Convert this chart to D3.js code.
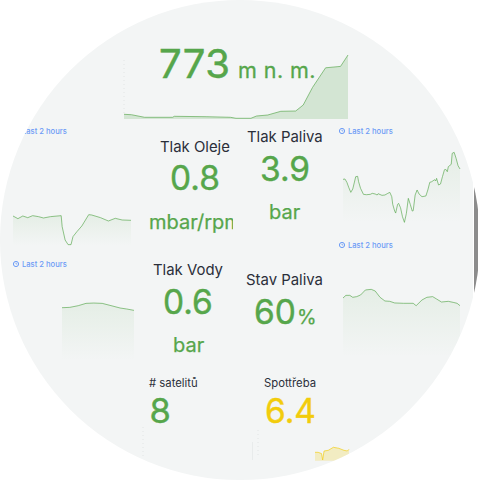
<!DOCTYPE html>
<html>
<head>
<meta charset="utf-8">
<script src="https://cdn.jsdelivr.net/npm/d3@7/dist/d3.min.js"></script>
<style>
html,body{margin:0;padding:0;background:#fff;width:480px;height:480px;overflow:hidden}
svg{display:block;font-family:Inter,"Noto Sans",sans-serif}
</style>
</head>
<body>
<svg id="c" width="480" height="480"></svg>
<script>
const GREEN="#56a64b", YELLOW="#f2cc0c", INK="#2b2f3a", BLUE="#6c9bf5";

const altTime=[0,4,11,26,27,44,57,60,68,71,77,84,92,96,101,108,116,120];
const altValues=[612.7,611.6,604.6,604.6,607.3,606.2,604.6,601.9,601.9,608.1,610.8,620.8,621.6,637.8,685.4,738.4,742.2,773];
const oilTime=[0,5,10,15,20,26,31,38,49,50,53,56,59,61,65,70,77,80,89,97,104,111,120];
const oilValues=[.826,.81,.826,.816,.828,.822,.814,.822,.828,.762,.682,.654,.654,.702,.732,.766,.834,.832,.816,.796,.812,.802,.8];
const fuelPressTime=[0,2,4,6,8,10,12,13,15,16,18,21,24,28,30,33,35,36,40,43,46,48,50,51,53,54,56,57,59,61,63,65,67,69,71,72,74,76,78,81,85,87,89,91,94,95,96,98,100,102,104,105,107,108,111,112,114,116,118,120];
const fuelPressValues=[3.725,3.731,3.674,3.583,3.504,3.561,3.697,3.77,3.776,3.685,3.572,3.47,3.464,3.47,3.487,3.476,3.459,3.481,3.453,3.459,3.487,3.504,3.43,3.3,3.186,3.152,3.3,3.317,3.243,3.09,2.994,3.147,3.402,3.3,3.186,3.192,3.459,3.544,3.476,3.43,3.442,3.544,3.674,3.685,3.719,3.697,3.742,3.629,3.646,3.77,3.884,3.901,3.855,3.94,3.98,4.167,4.184,4.082,3.957,3.901];
const waterTime=[0,13,27,40,53,67,80,97,108,120];
const waterValues=[.628,.632,.652,.68,.684,.68,.656,.624,.612,.596];
const fuelLevelTime=[0,3,7,10,14,18,23,29,33,38,43,48,53,62,72,75,81,86,92,96,101,108,113,117,120];
const fuelLevelValues=[69,72.1,72.1,69.8,70.6,72.5,78.4,79.1,77.2,69.8,65.5,65.1,63.2,62.8,62.8,60,66.7,69.8,70.6,67.8,64.3,65.1,63.9,62.8,60];
const burnTime=[0,11,23,27,32,47,65,84,102,114,120];
const burnValues=[6.1,6.1,5.97,5.33,6.23,6.3,6.6,6.5,6.3,6.23,6.4];

const svg=d3.select("#c");
const defs=svg.append("defs");
defs.append("clipPath").attr("id","disc").append("circle").attr("cx",240).attr("cy",240).attr("r",240);
defs.append("clipPath").attr("id","unitClip").append("rect").attr("x",140).attr("y",205).attr("width",93).attr("height",35);
const grad=defs.append("linearGradient").attr("id","fade").attr("x1",0).attr("x2",0).attr("y1",0).attr("y2",1);
grad.append("stop").attr("offset",0).attr("stop-color",GREEN).attr("stop-opacity",.09);
grad.append("stop").attr("offset",1).attr("stop-color",GREEN).attr("stop-opacity",0);

const root=svg.append("g").attr("clip-path","url(#disc)");
root.append("rect").attr("x",0).attr("y",0).attr("width",473).attr("height",480).attr("fill","#f3f5f5");
root.append("rect").attr("x",474).attr("y",185).attr("width",4).attr("height",110).attr("fill","#8c8c8c");

function spark(o){
  const x=d3.scaleLinear().domain([0,120]).range(o.xr);
  const y=d3.scaleLinear().domain(o.dom).range(o.yr);
  const pts=o.t.map((t,i)=>[t,o.v[i]]);
  const base=o.yr[0];
  root.append("path").datum(pts)
    .attr("d",d3.area().x(d=>x(d[0])).y0(base).y1(d=>y(d[1])))
    .attr("fill",o.fill).attr("fill-opacity",o.fo==null?1:o.fo);
  root.append("path").datum(pts)
    .attr("d",d3.line().x(d=>x(d[0])).y(d=>y(d[1])))
    .attr("fill","none").attr("stroke",o.color).attr("stroke-opacity",.65).attr("stroke-width",1);
}
spark({t:altTime,v:altValues,dom:[600,773],xr:[124,348],yr:[119,55],color:GREEN,fill:GREEN,fo:.2});
spark({t:oilTime,v:oilValues,dom:[.65,.85],xr:[13,131],yr:[245.3,212],color:GREEN,fill:"url(#fade)"});
spark({t:fuelPressTime,v:fuelPressValues,dom:[3,4.2],xr:[343,460],yr:[222,151.4],color:GREEN,fill:"url(#fade)"});
spark({t:waterTime,v:waterValues,dom:[0,.7],xr:[62,134],yr:[360,301.7],color:GREEN,fill:"url(#fade)"});
spark({t:fuelLevelTime,v:fuelLevelValues,dom:[0,80],xr:[343,460],yr:[357,288.6],color:GREEN,fill:"url(#fade)"});
spark({t:burnTime,v:burnValues,dom:[5.26,6.6],xr:[315,349],yr:[460.7,447.3],color:YELLOW,fill:YELLOW,fo:.22});

const dotted=[[124,60,113],[143,427,457],[258,430,457]];
root.selectAll("line.dot").data(dotted).enter().append("line").attr("class","dot")
  .attr("x1",d=>d[0]).attr("x2",d=>d[0]).attr("y1",d=>d[1]).attr("y2",d=>d[2])
  .attr("stroke","#e2e5e5").attr("stroke-dasharray","1 3");
root.append("line").attr("x1",252.5).attr("x2",252.5).attr("y1",442).attr("y2",460).attr("stroke","#e8ebeb");

const labels=[
 {s:"773",x:159,y:78,f:40,c:GREEN,ls:.4,sw:.5},
 {s:"m n. m.",x:238,y:78,f:21.5,c:GREEN,ls:.45,sw:.3},
 {s:"Tlak Oleje",x:160,y:152,f:14.9,c:INK},
 {s:"0.8",x:170,y:190,f:33.5,c:GREEN,sw:.4},
 {s:"mbar/rpm",x:149,y:229,f:20,c:GREEN,clip:"url(#unitClip)",sw:.25},
 {s:"Tlak Paliva",x:247,y:142,f:14.9,c:INK},
 {s:"3.9",x:260,y:181,f:33.5,c:GREEN,sw:.4},
 {s:"bar",x:269,y:219,f:20,c:GREEN,sw:.25},
 {s:"Tlak Vody",x:153,y:275,f:14.9,c:INK},
 {s:"0.6",x:163,y:314,f:33.5,c:GREEN,sw:.4},
 {s:"bar",x:173,y:352,f:20,c:GREEN,sw:.25},
 {s:"Stav Paliva",x:246,y:285,f:14.9,c:INK},
 {s:"60",x:254,y:324,f:33.5,c:GREEN,sw:.4},
 {s:"%",x:297,y:324,f:20,c:GREEN,sw:.25},
 {s:"# satelitů",x:149,y:387,f:11.3,c:INK},
 {s:"8",x:149.5,y:423,f:34.5,c:GREEN,sw:.4},
 {s:"Spottřeba",x:264,y:387,f:11.3,c:INK},
 {s:"6.4",x:265,y:423,f:33.5,c:YELLOW,sw:.4}
];
root.selectAll("text.lbl").data(labels).enter().append("text").attr("class","lbl")
  .attr("x",d=>d.x).attr("y",d=>d.y).attr("font-size",d=>d.f).attr("fill",d=>d.c)
  .attr("stroke",d=>d.sw?d.c:null).attr("stroke-width",d=>d.sw||null)
  .attr("letter-spacing",d=>d.ls||0).attr("clip-path",d=>d.clip||null).text(d=>d.s);

const stamps=[[16,131],[342,131],[342,245],[16,264]];
const st=root.selectAll("g.st").data(stamps).enter().append("g").attr("class","st")
  .attr("transform",d=>`translate(${d[0]},${d[1]})`);
st.append("circle").attr("r",2.6).attr("fill","none").attr("stroke",BLUE).attr("stroke-width",1);
st.append("path").attr("d","M0,-1.4V0H1.3").attr("fill","none").attr("stroke",BLUE).attr("stroke-width",.7);
st.append("text").attr("x",6).attr("y",2.7).attr("font-size",7.6).attr("font-weight",500).attr("fill",BLUE).text("Last 2 hours");
</script>
</body>
</html>
